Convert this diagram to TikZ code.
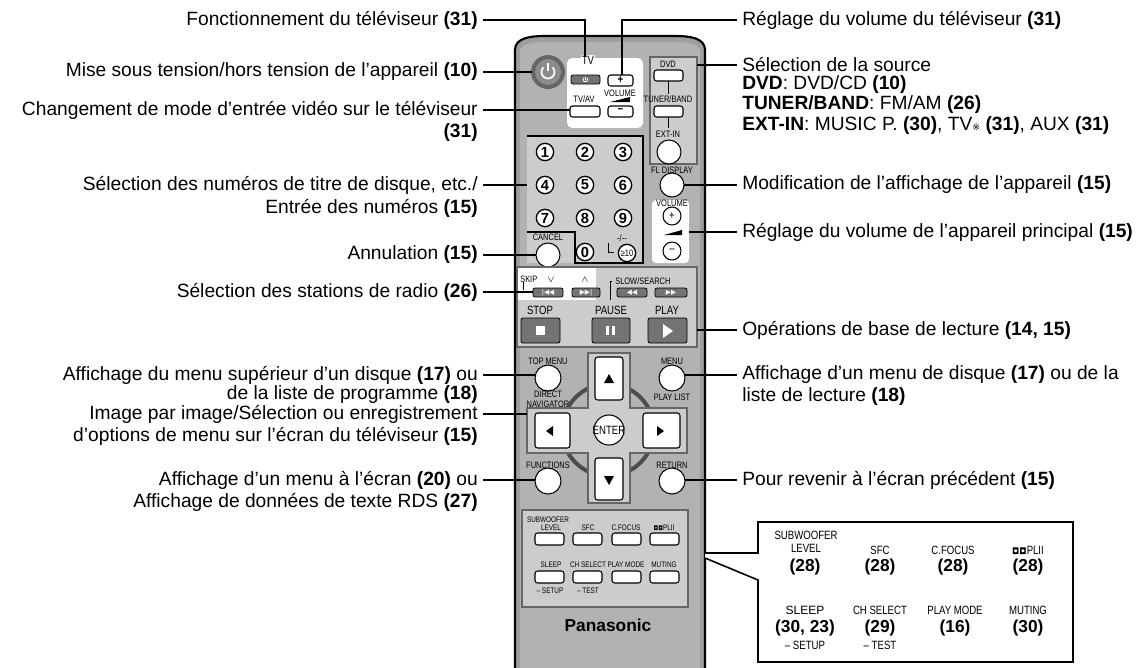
\documentclass[tikz,border=0pt]{standalone}
\usepackage{fontspec}
\setmainfont{Liberation Sans}
\newfontfamily\djv{DejaVu Sans}
\newfontfamily\narrow[FakeStretch=0.8]{Liberation Sans}
\begin{document}
\begin{tikzpicture}[x=0.75pt,y=-0.75pt,
 lab/.style={font=\fontsize{14.4}{16}\selectfont,inner sep=0pt},
 ll/.style={lab,anchor=east},
 rl/.style={lab,anchor=west},
 lead/.style={line width=1.1pt},
 rt/.style={font=\narrow\fontsize{7}{7.5}\selectfont,inner sep=0pt},
 bt/.style={font=\narrow\fontsize{9}{9}\selectfont,inner sep=0pt},
 bx/.style={font=\bfseries\fontsize{13}{13}\selectfont,inner sep=0pt},
 bl/.style={font=\narrow\fontsize{9}{10}\selectfont,inner sep=0pt},
 btn/.style={draw=black,line width=0.8pt,fill=white,rounded corners=2pt},
 cb/.style={draw=black,line width=0.8pt,fill=white},
 db/.style={draw=black,line width=0.6pt,fill=black!55,rounded corners=1.5pt},
 num/.style={circle,draw=black,line width=1pt,fill=white,inner sep=0pt,minimum size=13pt,font=\bfseries\fontsize{11}{11}\selectfont},
 pan/.style={fill=black!20,draw=white,line width=1pt},
]
\useasboundingbox (0,0) rectangle (1140,668);
% ---------- remote body
\draw[fill=black!38,line width=1.6pt] (515,668) -- (515,50) .. controls (515,38) and (530,36) .. (545,36) -- (675,36) .. controls (690,36) and (705,38) .. (705,50) -- (705,668);
\fill[black!30] (520,668) -- (520,52) .. controls (520,44) and (532,42) .. (545,42) -- (675,42) .. controls (688,42) and (700,44) .. (700,52) -- (700,668) -- cycle;
% power
\fill[black!60] (548,72) circle (17);
\fill[black!45] (548,72) circle (13);
\node[circle,inner sep=0,minimum size=4pt] (pw) at (548,72) {};
\draw[white,line width=1.3pt] (552.6,67.4) arc (-45:225:6.5);
\draw[white,line width=1.3pt] (548,63) -- (548,71);
% TV panel
\fill[white,rounded corners=4pt] (567,58) rectangle (643,128);
\node[rt,fill=white,inner sep=1pt,font=\narrow\fontsize{9}{9}\selectfont] (tvl) at (588,60) {TV};
\draw[db] (571,75) rectangle (600,84);
\draw[white,line width=0.6pt] (587.1,77.9) arc (-45:225:2.3);
\draw[white,line width=0.6pt] (585.5,76.5) -- (585.5,79.5);
\draw[btn] (608,75) rectangle (633,86); \node[bt] at (620.5,80) {\bfseries +};
\node[rt] at (620,93) {VOLUME};
\fill (610,102) -- (630,97) -- (630,102) -- cycle;
\draw[btn] (608,106) rectangle (633,117); \node[bt] at (620.5,111) {\bfseries –};
\node[rt] at (584,99) {TV/AV};
\draw[btn] (570,106) rectangle (600,117);
% source panel
\draw[pan,draw=black!60] (650,57) rectangle (697,164);
\node[rt] at (668,64) {DVD};
\draw[btn] (654,70) rectangle (683,81);
\draw (668,81) -- (668,94);
\node[rt] at (668,99) {TUNER/BAND};
\draw[btn] (654,106) rectangle (683,117);
\draw (668,117) -- (668,128);
\node[rt] at (668,134) {EXT-IN};
\draw[cb] (669,152) circle (12);
% number panel
\fill[black!20] (527,136) rectangle (643,263);
\draw[line width=1.2pt] (527,136) -- (643,136) -- (643,263) -- (575,263) -- (575,232) -- (527,232);
\foreach \n/\x/\y in {1/545/152,2/585/152,3/623/152,4/545/185,5/585/185,6/623/185,7/545/218,8/585/218,9/623/218,0/585/252}
  \node[num] at (\x,\y) {\n};
\node[num,font=\narrow\fontsize{7}{7}\selectfont] at (627,253) {≥10};
\node[rt] at (622,238) {-/--};
\draw (608,243) -- (608,252) -- (614,252);
\node[rt] at (548,237) {CANCEL};
\draw[cb] (548,255) circle (12);
% FL display & volume
\node[rt] at (672,170) {FL DISPLAY};
\draw[cb] (672,185) circle (12);
\fill[white,rounded corners=3pt] (652,200) rectangle (689,263);
\node[rt] at (672,203) {VOLUME};
\draw[line width=0.8pt] (672,216) circle (9); \node[bt] at (672,216) {+};
\fill (664,235) -- (682,230) -- (682,235) -- cycle;
\draw[line width=0.8pt] (672,251) circle (9); \node[bt] at (672,251) {–};
% playback panel
\draw[pan,draw=black!60] (517,267) rectangle (697,347);
\fill[white] (518,268) rectangle (596,300);
\node[rt,anchor=west] at (520,279) {SKIP};
\node[rt] at (551,280) {$\vee$}; \node[rt] at (585,280) {$\wedge$};
\draw (523,282) -- (523,290);
\draw[db] (533,288) rectangle (563,297); \draw[db] (572,288) rectangle (600,297);
\draw[db] (617,288) rectangle (647,297); \draw[db] (655,288) rectangle (687,297);
\node[rt,text=white,font=\djv\fontsize{5}{5}\selectfont] at (548,292.5) {|◀◀};
\node[rt,text=white,font=\djv\fontsize{5}{5}\selectfont] at (586,292.5) {▶▶|};
\node[rt,text=white,font=\djv\fontsize{5}{5}\selectfont] at (632,292.5) {◀◀};
\node[rt,text=white,font=\djv\fontsize{5}{5}\selectfont] at (671,292.5) {▶▶};
\node[rt,anchor=west] at (615,281) {SLOW/SEARCH};
\draw (612,281) -- (610,281) -- (610,300);
\node[bt] at (540,310) {STOP}; \node[bt] at (611,310) {PAUSE}; \node[bt] at (667,310) {PLAY};
\draw[db] (521,318) rectangle (560,343); \fill[white] (536,326) rectangle (545,335);
\draw[db] (592,318) rectangle (630,343); \fill[white] (606,326) rectangle (609,335); \fill[white] (612,326) rectangle (615,335);
\draw[db] (648,318) rectangle (687,343); \fill[white] (663,324) -- (673,331) -- (663,338) -- cycle;
% menu / cross pad
\node[rt] at (548,361) {TOP MENU};
\draw[cb] (548,378) circle (13);
\node[rt,align=center] at (548,399) {DIRECT\\NAVIGATOR};
\node[rt] at (672,361) {MENU};
\draw[cb] (672,378) circle (13);
\node[rt] at (672,397) {PLAY LIST};
\draw[line width=3pt,black!70] (608,430) circle (46);
\draw[pan,draw=black!60] (588,353) -- (630,353) -- (630,408) -- (687,408) -- (687,453) -- (630,453) -- (630,503) -- (588,503) -- (588,453) -- (527,453) -- (527,408) -- (588,408) -- cycle;
\draw[btn] (595,357) rectangle (623,400); \fill (604,383) -- (614,383) -- (609,374) -- cycle;
\draw[btn] (595,458) rectangle (623,500); \fill (604,476) -- (614,476) -- (609,485) -- cycle;
\draw[btn] (535,413) rectangle (570,448); \fill (553,426) -- (553,436) -- (546,431) -- cycle;
\draw[btn] (643,413) rectangle (680,448); \fill (657,426) -- (657,436) -- (664,431) -- cycle;
\draw[cb] (609,430) circle (15); \node[bt] at (609,430) {ENTER};
\node[rt] at (548,465) {FUNCTIONS};
\draw[cb] (548,481) circle (13);
\node[rt] at (672,465) {RETURN};
\draw[cb] (672,481) circle (13);
% bottom panel
\draw[pan,draw=black!60] (522,510) rectangle (688,607);
\begin{scope}[rt/.append style={font=\narrow\fontsize{6}{6.5}\selectfont}]
\node[rt] at (548,520) {SUBWOOFER}; \node[rt] at (551,528) {LEVEL};
\node[rt] at (588,528) {SFC}; \node[rt] at (626,528) {C.FOCUS}; \node[rt] at (664,528) {{\djv\fontsize{4.5}{5}\selectfont ◘◘}PLII};
\node[rt] at (551,565) {SLEEP}; \node[rt] at (588,565) {CH SELECT}; \node[rt] at (626,565) {PLAY MODE}; \node[rt] at (664,565) {MUTING};
\node[rt] at (550,591) {– SETUP}; \node[rt] at (588,591) {– TEST};
\end{scope}
\foreach \x in {535,573,612,650} \draw[btn] (\x,533) rectangle ++(29,12);
\foreach \x in {535,573,612,650} \draw[btn] (\x,571) rectangle ++(29,12);
\node[font=\bfseries\fontsize{13}{13}\selectfont] (pan) at (608,625) {Panasonic};
% ---------- callout box
\draw[line width=1.2pt,fill=white] (705,553) -- (758,553) -- (758,522) -- (1073,522) -- (1073,662) -- (758,662) -- (758,580) -- (705,558);
\node[bl,align=center] at (806,542) {SUBWOOFER\\LEVEL};
\node[bl] at (880,550) {SFC};
\node[bl] at (953,550) {C.FOCUS};
\node[bl] at (1028,550) {{\djv\bfseries\fontsize{6.5}{6}\selectfont ◘◘}PLII};
\foreach \x in {805,880,953,1028} \node[bx] at (\x,567) {(28)};
\node[bl,font=\fontsize{9}{10}\selectfont] at (805,610) {SLEEP};
\node[bl] at (880,610) {CH SELECT};
\node[bl] at (955,610) {PLAY MODE};
\node[bl] at (1028,610) {MUTING};
\node[bx] at (805,628) {(30, 23)}; \node[bx] at (880,628) {(29)};
\node[bx] at (955,628) {(16)}; \node[bx] at (1028,628) {(30)};
\node[bl] at (805,645) {– SETUP};
\node[bl] at (880,645) {– TEST};
% ---------- target coordinates
\coordinate (t1) at (585,57); \coordinate (t2) at (532,72); \coordinate (t3) at (570,110);
\coordinate (t4) at (527,185); \coordinate (t5) at (536,255); \coordinate (t6) at (533,292);
\coordinate (t7) at (535,375); \coordinate (t8) at (527,414); \coordinate (t9) at (535,480);
\coordinate (s1) at (622,75); \coordinate (s2) at (697,65); \coordinate (s3) at (684,185);
\coordinate (s4) at (689,232); \coordinate (s5) at (697,330); \coordinate (s6) at (685,375);
\coordinate (s7) at (685,480);
% ---------- left labels
\node[ll] (l1) at (478,20) {Fonctionnement du téléviseur \textbf{(31)}};
\node[ll] (l2) at (478,72) {Mise sous tension/hors tension de l’appareil \textbf{(10)}};
\node[ll] (l3) at (478,110) {Changement de mode d’entrée vidéo sur le téléviseur};
\node[ll] (l3b) at (478,133) {\textbf{(31)}};
\node[ll] (l4) at (478,185) {Sélection des numéros de titre de disque, etc./};
\node[ll] (l4b) at (478,208) {Entrée des numéros \textbf{(15)}};
\node[ll] (l5) at (478,255) {Annulation \textbf{(15)}};
\node[ll] (l6) at (478,292) {Sélection des stations de radio \textbf{(26)}};
\node[ll] (l7) at (478,375) {Affichage du menu supérieur d’un disque \textbf{(17)} ou};
\node[ll] (l7b) at (478,395) {de la liste de programme \textbf{(18)}};
\node[ll] (l8) at (478,414) {Image par image/Sélection ou enregistrement};
\node[ll] (l8b) at (478,436) {d’options de menu sur l’écran du téléviseur \textbf{(15)}};
\node[ll] (l9) at (478,480) {Affichage d’un menu à l’écran \textbf{(20)} ou};
\node[ll] (l9b) at (478,502) {Affichage de données de texte RDS \textbf{(27)}};
% ---------- right labels
\node[rl] (r1) at (742,20) {Réglage du volume du téléviseur \textbf{(31)}};
\node[rl] (r2) at (742,65) {Sélection de la source};
\node[rl] (r2b) at (742,85) {\textbf{DVD}: DVD/CD \textbf{(10)}};
\node[rl] (r2c) at (742,105) {\textbf{TUNER/BAND}: FM/AM \textbf{(26)}};
\node[rl] (r2d) at (742,126) {\textbf{EXT-IN}: MUSIC P. \textbf{(30)}, TV{\djv\fontsize{7}{7}\selectfont ※} \textbf{(31)}, AUX \textbf{(31)}};
\node[rl] (r3) at (742,185) {Modification de l’affichage de l’appareil \textbf{(15)}};
\node[rl] (r4) at (742,232) {Réglage du volume de l’appareil principal \textbf{(15)}};
\node[rl] (r5) at (742,330) {Opérations de base de lecture \textbf{(14, 15)}};
\node[rl] (r6) at (742,375) {Affichage d’un menu de disque \textbf{(17)} ou de la};
\node[rl] (r6b) at (742,397) {liste de lecture \textbf{(18)}};
\node[rl] (r7) at (742,480) {Pour revenir à l’écran précédent \textbf{(15)}};
% ---------- leaders
\draw[lead] ([xshift=4pt]l1.east) -| (t1);
\foreach \a/\b in {l2/t2,l3/t3,l4/t4,l5/t5,l6/t6,l7/t7,l8/t8,l9/t9}
  \draw[lead] ([xshift=4pt]\a.east) -- (\b);
\draw[lead] ([xshift=-4pt]r1.west) -| (s1);
\foreach \a/\b in {r2/s2,r3/s3,r4/s4,r5/s5,r6/s6,r7/s7}
  \draw[lead] ([xshift=-4pt]\a.west) -- (\b);
\end{tikzpicture}
\end{document}
